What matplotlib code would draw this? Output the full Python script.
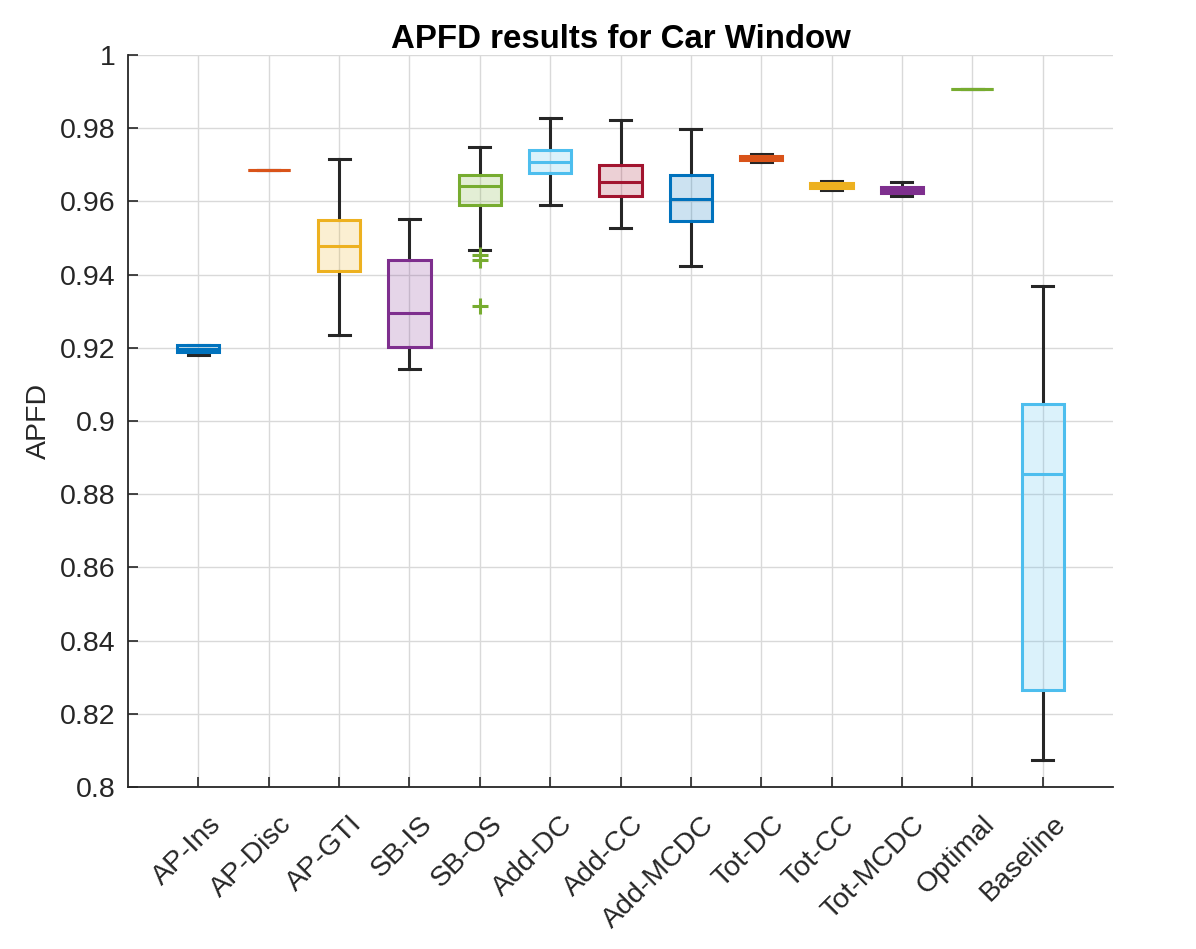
import matplotlib
matplotlib.use("Agg")
import matplotlib.pyplot as plt
import matplotlib.transforms as mtransforms

plt.rcParams['font.family'] = ['Liberation Sans', 'DejaVu Sans']

categories = ["AP-Ins", "AP-Disc", "AP-GTI", "SB-IS", "SB-OS", "Add-DC", "Add-CC",
              "Add-MCDC", "Tot-DC", "Tot-CC", "Tot-MCDC", "Optimal", "Baseline"]
whisker_low = [0.9180, 0.9686, 0.9236, 0.9141, 0.9466, 0.9590, 0.9528, 0.9423, 0.9709, 0.9631, 0.9616, 0.9906, 0.8074]
q1 =          [0.9189, 0.9686, 0.9411, 0.9202, 0.9589, 0.9678, 0.9615, 0.9546, 0.9713, 0.9637, 0.9624, 0.9906, 0.8265]
median =      [0.9198, 0.9686, 0.9478, 0.9296, 0.9641, 0.9709, 0.9652, 0.9607, 0.9718, 0.9644, 0.9632, 0.9906, 0.8854]
q3 =          [0.9207, 0.9686, 0.9549, 0.9439, 0.9673, 0.9740, 0.9700, 0.9672, 0.9723, 0.9650, 0.9639, 0.9906, 0.9046]
whisker_high= [0.9207, 0.9686, 0.9715, 0.9553, 0.9750, 0.9829, 0.9822, 0.9799, 0.9729, 0.9657, 0.9653, 0.9906, 0.9368]
outliers = [[], [], [], [], [0.9453, 0.9440, 0.9313], [], [], [], [], [], [], [], []]
colors = ["#0072BD", "#D95319", "#EDB120", "#7E2F8E", "#77AC30", "#4DBEEE", "#A2142F",
          "#0072BD", "#D95319", "#EDB120", "#7E2F8E", "#77AC30", "#4DBEEE"]
yticks = [0.8, 0.82, 0.84, 0.86, 0.88, 0.9, 0.92, 0.94, 0.96, 0.98, 1.0]
ytick_labels = ["0.8", "0.82", "0.84", "0.86", "0.88", "0.9", "0.92", "0.94", "0.96", "0.98", "1"]

fig = plt.figure(figsize=(11.96, 9.49), dpi=100)
ax = fig.add_axes([128/1196, 1-787/949, (1113-128)/1196, (787-55)/949])

positions = list(range(1, len(categories) + 1))
stats = []
for i, name in enumerate(categories):
    stats.append(dict(label=name, whislo=whisker_low[i], q1=q1[i], med=median[i],
                      q3=q3[i], whishi=whisker_high[i], fliers=outliers[i]))

dark = "#262626"
bp = ax.bxp(stats, positions=positions, widths=0.6, patch_artist=True,
            showfliers=True, capwidths=0.3,
            whiskerprops=dict(color=dark, linewidth=2.2, zorder=2),
            capprops=dict(color=dark, linewidth=2.2, zorder=2))

for i, c in enumerate(colors):
    box = bp['boxes'][i]
    box.set_facecolor(matplotlib.colors.to_rgba(c, 0.2))
    box.set_edgecolor(c)
    box.set_linewidth(2.2)
    box.set_zorder(3)
    med = bp['medians'][i]
    med.set_color(c)
    med.set_linewidth(2.2)
    med.set_zorder(4)
    fl = bp['fliers'][i]
    fl.set_marker('+')
    fl.set_markeredgecolor(c)
    fl.set_markersize(12)
    fl.set_markeredgewidth(2.2)
    fl.set_zorder(4)

ax.set_xlim(0, 14)
ax.set_ylim(0.8, 1.0)
ax.set_yticks(yticks)
ax.set_yticklabels(ytick_labels)
ax.set_xticks(positions)

ax.grid(True, color="#d9d9d9", linewidth=1.0)
ax.set_axisbelow(True)
for s in ['top', 'right']:
    ax.spines[s].set_visible(False)
for s in ['left', 'bottom']:
    ax.spines[s].set_color(dark)
    ax.spines[s].set_linewidth(1.3)
ax.tick_params(axis='both', direction='in', length=7, width=1.2, color=dark,
               labelsize=20.5, labelcolor=dark)
ax.tick_params(axis='y', pad=9)
ax.tick_params(axis='x', pad=24)

ax.set_xticklabels(categories, rotation=45, ha='right', va='center', rotation_mode='anchor')
offset = mtransforms.ScaledTranslation(19/100, 0, fig.dpi_scale_trans)
for lab in ax.get_xticklabels():
    lab.set_transform(lab.get_transform() + offset)

ax.set_ylabel("APFD", fontsize=20.5, color=dark, labelpad=6)
ax.set_title("APFD results for Car Window", fontsize=23.8, fontweight='bold', pad=3)

fig.savefig("out.png", dpi=100)
